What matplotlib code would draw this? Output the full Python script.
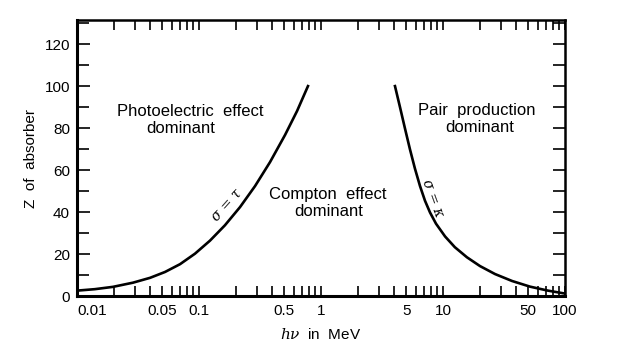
import numpy as np
import matplotlib
matplotlib.use("Agg")
from matplotlib import pyplot as plt
from matplotlib.ticker import LogLocator, NullFormatter, MultipleLocator, FixedLocator

plt.rcParams['font.family'] = ['Liberation Sans', 'DejaVu Sans']
plt.rcParams['mathtext.fontset'] = 'dejavuserif'

# sigma = tau boundary (photoelectric / Compton)
e_photo = [0.01, 0.0140, 0.0197, 0.0288, 0.0397, 0.0527, 0.0699, 0.0927,
           0.123, 0.163, 0.217, 0.288, 0.382, 0.507, 0.636, 0.782]
z_photo = [2.6, 3.3, 4.4, 6.4, 8.7, 11.5, 15.2, 20.2,
           26.4, 33.7, 42.4, 52.4, 63.8, 76.7, 88.1, 100]

# sigma = kappa boundary (Compton / pair production)
e_pair = [4.04, 4.44, 4.88, 5.36, 5.89, 6.48, 7.12, 7.83, 8.76, 10.4,
          12.5, 15.7, 20.1, 26.7, 36.8, 51.7, 72.6, 100]
z_pair = [100, 90.0, 79.8, 69.9, 60.7, 52.4, 45.4, 39.8, 34.5, 28.4,
          23.3, 18.5, 14.3, 10.5, 7.2, 4.5, 2.6, 1.2]

x_ticks = [0.01, 0.05, 0.1, 0.5, 1, 5, 10, 50, 100]
x_labels = ['0.01', '0.05', '0.1', '0.5', '1', '5', '10', '50', '100']
y_ticks = [0, 20, 40, 60, 80, 100, 120]

fig = plt.figure(figsize=(6.25, 3.5), dpi=100)
ax = fig.add_axes([0.1232, 0.154, 0.7808, 0.789])

ax.plot(e_photo, z_photo, color='black', lw=1.9, solid_joinstyle='round')
ax.plot(e_pair, z_pair, color='black', lw=1.9, solid_joinstyle='round')

ax.set_xscale('log')
ax.set_xlim(0.01, 100)
ax.set_ylim(0, 131.5)

# x ticks: every 1..9 per decade, inward, top and bottom
ax.xaxis.set_major_locator(FixedLocator(x_ticks))
ax.set_xticklabels(x_labels)
ax.xaxis.set_minor_locator(LogLocator(base=10, subs=np.arange(2, 10)))
ax.xaxis.set_minor_formatter(NullFormatter())
ax.tick_params(axis='x', which='both', direction='in', top=True, bottom=True,
               length=7, width=1.2, labelsize=11, pad=6)

ax.yaxis.set_major_locator(FixedLocator(y_ticks))
ax.yaxis.set_minor_locator(MultipleLocator(10))
ax.tick_params(axis='y', which='major', direction='in', left=True, right=True,
               length=9, width=1.2, labelsize=11, pad=5)
ax.tick_params(axis='y', which='minor', direction='in', left=True, right=True,
               length=8.5, width=1.2)

ax.get_xticklabels()[0].set_horizontalalignment('left')

for side in ['left', 'bottom']:
    ax.spines[side].set_linewidth(2.2)
for side in ['top', 'right']:
    ax.spines[side].set_linewidth(1.8)

ax.set_xlabel(r'$h\nu$  in  MeV', fontsize=11, labelpad=6)
ax.set_ylabel('Z  of  absorber', fontsize=11, labelpad=5)

ax.text(0.0844, 88, 'Photoelectric  effect', fontsize=12, ha='center', va='center')
ax.text(0.0711, 80, 'dominant', fontsize=12, ha='center', va='center')
ax.text(1.14, 48.5, 'Compton  effect', fontsize=12, ha='center', va='center')
ax.text(1.16, 40.5, 'dominant', fontsize=12, ha='center', va='center')
ax.text(19.0, 88.5, 'Pair  production', fontsize=12, ha='center', va='center')
ax.text(20.0, 80.5, 'dominant', fontsize=12, ha='center', va='center')

ax.text(0.168, 43.5, r'$\sigma\,=\,\tau$', fontsize=10, rotation=48,
        ha='center', va='center')
ax.text(8.3, 46.5, r'$\sigma\,=\,\kappa$', fontsize=10, rotation=-70,
        ha='center', va='center')

fig.savefig('out.png', dpi=100)
